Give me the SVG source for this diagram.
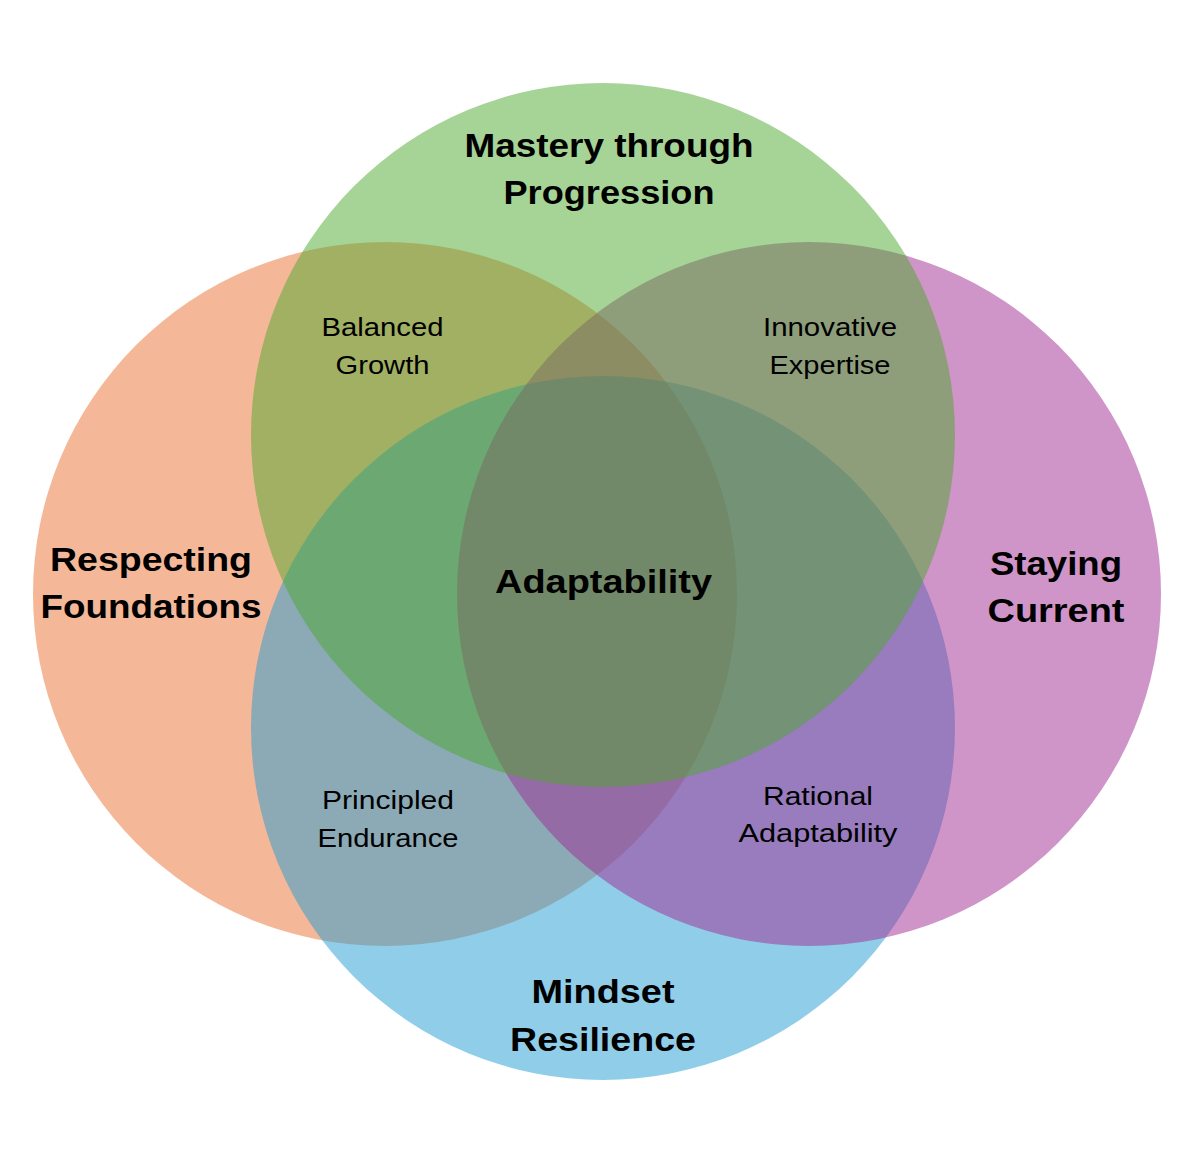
<svg xmlns="http://www.w3.org/2000/svg" width="1192" height="1172" viewBox="0 0 1192 1172">
  <style>
    .set { opacity: 0.5; }
    .big { font-family: "Liberation Sans", Arial, sans-serif; font-weight: bold; font-size: 34px; fill: #000; text-anchor: middle; }
    .small { font-family: "Liberation Sans", Arial, sans-serif; font-size: 25px; fill: #000; text-anchor: middle; }
  </style>
  <rect width="1192" height="1172" fill="#ffffff"/>
  <g id="circles">
    <circle id="c-respecting" class="set" cx="385" cy="594" r="352" fill="#E97132"/>
    <circle id="c-mindset" class="set" cx="603" cy="728" r="352" fill="#229CD3"/>
    <circle id="c-staying" class="set" cx="809" cy="594" r="352" fill="#A02B93"/>
    <circle id="c-mastery" class="set" cx="603" cy="435" r="352" fill="#4EA72E"/>
  </g>
  <g id="node-mastery">
    <text class="big" x="609" y="157" textLength="289" lengthAdjust="spacingAndGlyphs">Mastery through</text>
    <text class="big" x="609" y="204" textLength="211" lengthAdjust="spacingAndGlyphs">Progression</text>
  </g>
  <g id="node-respecting">
    <text class="big" x="151" y="571" textLength="202" lengthAdjust="spacingAndGlyphs">Respecting</text>
    <text class="big" x="151" y="618" textLength="221" lengthAdjust="spacingAndGlyphs">Foundations</text>
  </g>
  <g id="node-staying">
    <text class="big" x="1056" y="575" textLength="132" lengthAdjust="spacingAndGlyphs">Staying</text>
    <text class="big" x="1056" y="622" textLength="137" lengthAdjust="spacingAndGlyphs">Current</text>
  </g>
  <g id="node-mindset">
    <text class="big" x="603" y="1003" textLength="143" lengthAdjust="spacingAndGlyphs">Mindset</text>
    <text class="big" x="603" y="1051" textLength="186" lengthAdjust="spacingAndGlyphs">Resilience</text>
  </g>
  <g id="node-adaptability">
    <text class="big" x="603.5" y="593" textLength="217" lengthAdjust="spacingAndGlyphs">Adaptability</text>
  </g>
  <g id="node-balanced">
    <text class="small" x="382.5" y="336" textLength="122" lengthAdjust="spacingAndGlyphs">Balanced</text>
    <text class="small" x="382.5" y="374" textLength="94" lengthAdjust="spacingAndGlyphs">Growth</text>
  </g>
  <g id="node-innovative">
    <text class="small" x="830" y="336" textLength="134" lengthAdjust="spacingAndGlyphs">Innovative</text>
    <text class="small" x="830" y="374" textLength="121" lengthAdjust="spacingAndGlyphs">Expertise</text>
  </g>
  <g id="node-principled">
    <text class="small" x="388" y="809" textLength="132" lengthAdjust="spacingAndGlyphs">Principled</text>
    <text class="small" x="388" y="847" textLength="141" lengthAdjust="spacingAndGlyphs">Endurance</text>
  </g>
  <g id="node-rational">
    <text class="small" x="818" y="805" textLength="110" lengthAdjust="spacingAndGlyphs">Rational</text>
    <text class="small" x="818" y="842" textLength="159" lengthAdjust="spacingAndGlyphs">Adaptability</text>
  </g>
</svg>
